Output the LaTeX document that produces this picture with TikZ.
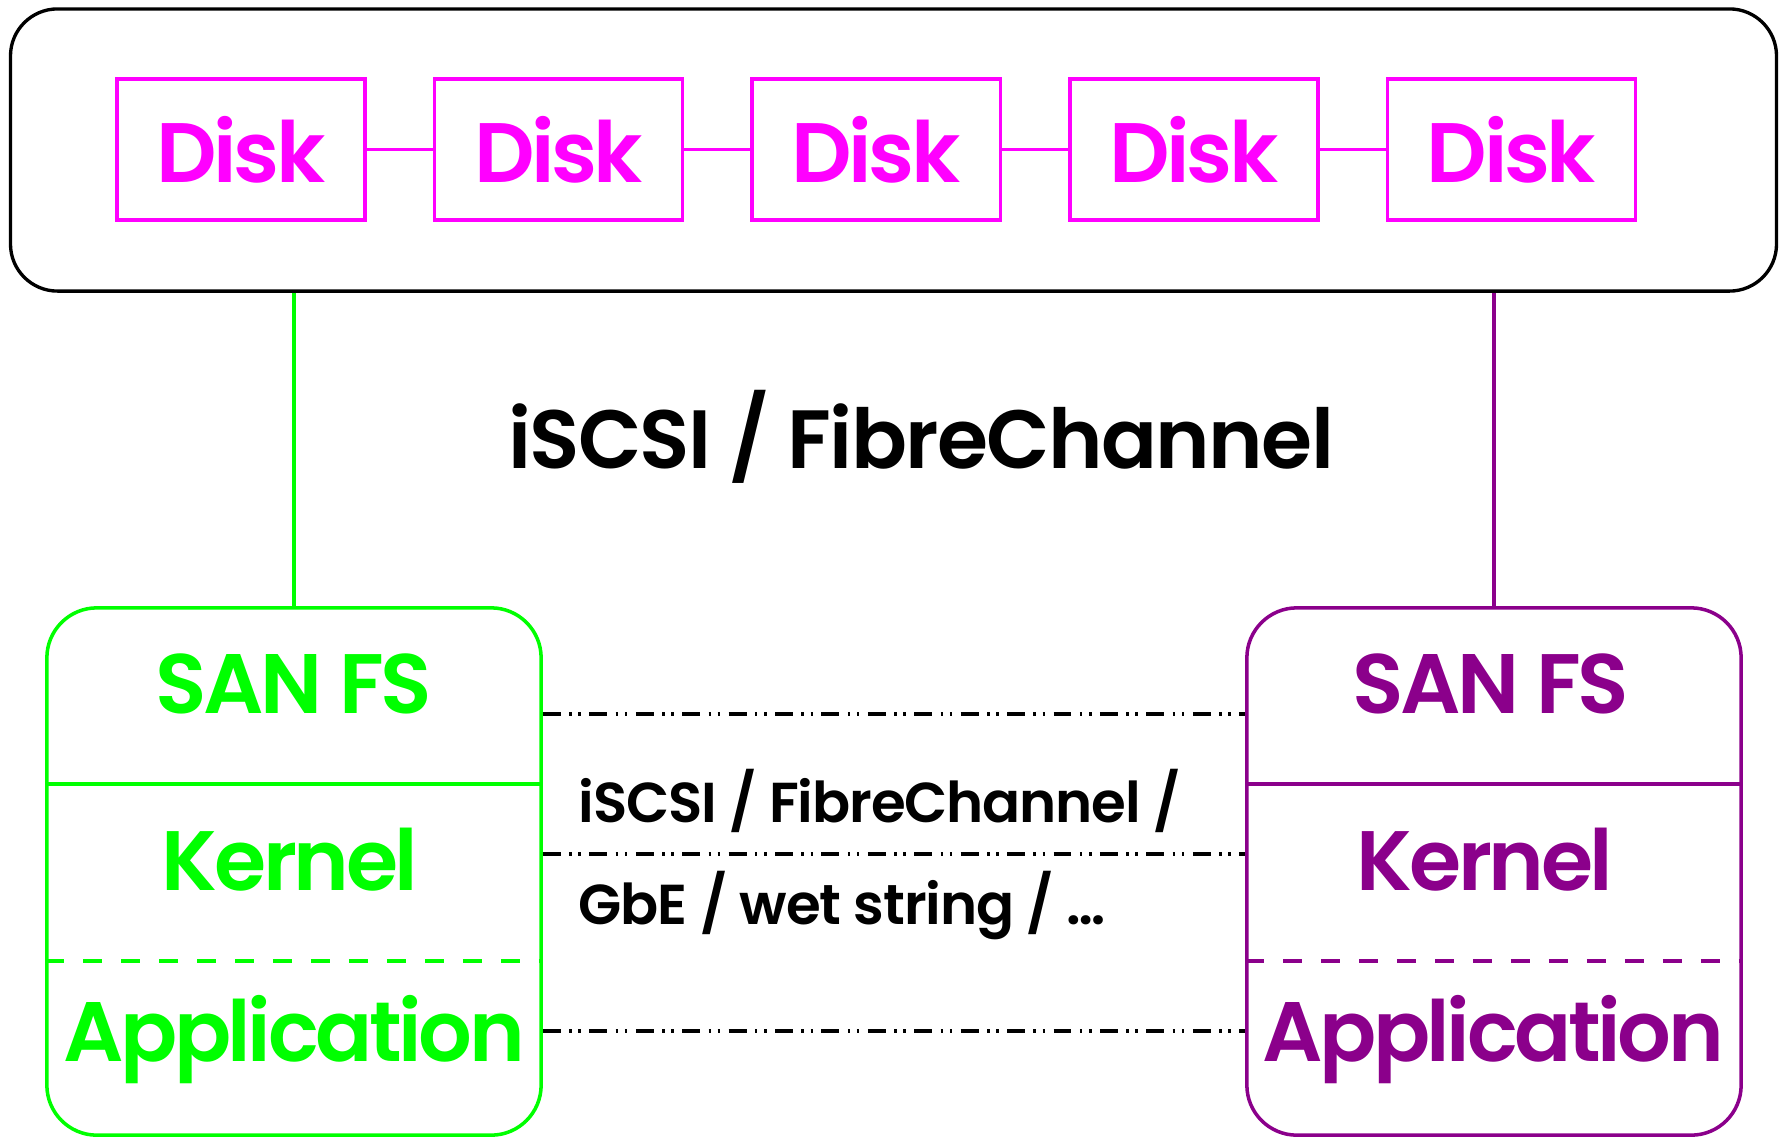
\documentclass[tikz,border=0pt]{standalone}
\usepackage{fontspec}
\setmainfont{Poppins}[BoldFont={Poppins SemiBold}]
\usetikzlibrary{positioning}

\definecolor{diskmag}{RGB}{255,0,255}
\definecolor{hostgreen}{RGB}{0,255,0}
\definecolor{hostpurple}{RGB}{139,0,139}

\newcommand{\layerfont}{\fontsize{24}{29}\selectfont\bfseries\addfontfeature{LetterSpace=-4}}

\begin{document}
\begin{tikzpicture}[x=0.01cm, y=-0.01cm, line width=1pt,
    disk/.style={draw=diskmag, text=diskmag, minimum width=2.48cm, minimum height=1.41cm, inner sep=0pt, font=\layerfont},
    host/.style={draw, rounded corners=0.5cm, minimum width=4.94cm, minimum height=5.27cm, inner sep=0pt},
    layer/.style={font=\layerfont, inner sep=0pt},
    link/.style={line width=1.1pt, dash pattern=on 5.1pt off 2.4pt on 0.7pt off 1.9pt on 0.7pt off 2.4pt}]
  \useasboundingbox (0,0) rectangle (1782,1139);
  % storage array
  \node[draw, rounded corners=0.47cm, line width=0.95pt, minimum width=17.65cm, minimum height=2.82cm] (array) at (893.5,150) {};
  \foreach \i in {1,...,5}
    \node[disk] (disk\i) at ({241+317.6*(\i-1)},149.5) {Disk};
  \foreach \i/\j in {1/2,2/3,3/4,4/5}
    \draw[diskmag] (disk\i) -- (disk\j);
  \node[font=\fontsize{23.5}{28}\selectfont\bfseries\addfontfeature{LetterSpace=-2}] (bus) at (921,437) {iSCSI / FibreChannel};
  % the two hosts
  \node[host, draw=hostgreen] (hostA) at (294,871.5) {};
  \node[host, draw=hostpurple] (hostB) at (1494,871.5) {};
  \draw[hostgreen] (hostA.north) -- (hostA.north |- array.south);
  \draw[hostpurple] (hostB.north) -- (hostB.north |- array.south);
  \draw[hostgreen] (hostA.west |- 0,784) -- (hostA.east |- 0,784);
  \draw[hostgreen, dash pattern=on 5.4pt off 5.4pt] (hostA.west |- 0,961) -- (hostA.east |- 0,961);
  \draw[hostpurple] (hostB.west |- 0,784) -- (hostB.east |- 0,784);
  \draw[hostpurple, dash pattern=on 5.4pt off 5.4pt] (hostB.west |- 0,961) -- (hostB.east |- 0,961);
  \node[layer, text=hostgreen] (fsA) at (294,684) {SAN FS};
  \node[layer, text=hostgreen] (kernelA) at (290,860) {Kernel};
  \node[layer, text=hostgreen] (appA) at (294,1040) {Application};
  \node[layer, text=hostpurple] (fsB) at (1491,684) {SAN FS};
  \node[layer, text=hostpurple] (kernelB) at (1485,860) {Kernel};
  \node[layer, text=hostpurple] (appB) at (1493,1040) {Application};
  % peer links
  \draw[link] (hostA.east |- 0,714) -- (hostB.west |- 0,714);
  \draw[link] (hostA.east |- 0,854) -- (hostB.west |- 0,854);
  \draw[link] (hostA.east |- 0,1031) -- (hostB.west |- 0,1031);
  \node[font=\fontsize{16}{19}\selectfont\bfseries\addfontfeature{LetterSpace=-2}, anchor=west, inner sep=0pt] (netA) at (577,801) {iSCSI / FibreChannel /};
  \node[font=\fontsize{16}{19}\selectfont\bfseries\addfontfeature{LetterSpace=-2}, anchor=west, inner sep=0pt] (netB) at (577,906) {GbE / wet string / \ldots};
\end{tikzpicture}
\end{document}
